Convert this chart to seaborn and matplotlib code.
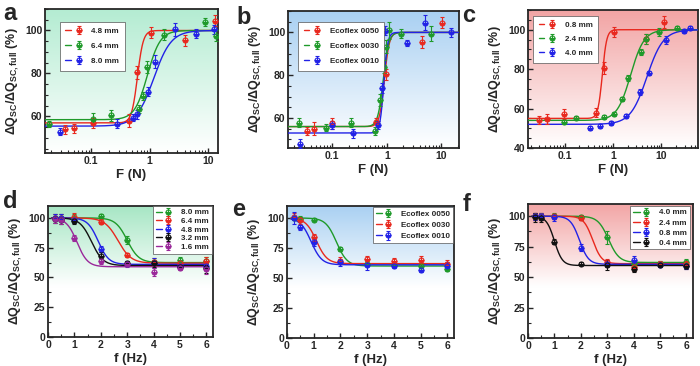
import numpy as np
import pandas as pd
import matplotlib
matplotlib.use('Agg')
import matplotlib.pyplot as plt
import seaborn as sns
from matplotlib.lines import Line2D
from matplotlib.legend_handler import HandlerTuple
from matplotlib.colors import to_rgb
from matplotlib.ticker import MultipleLocator, LogLocator, NullFormatter, FixedLocator, FixedFormatter

sns.set_style('ticks')
plt.rcParams['font.family'] = ['Liberation Sans', 'DejaVu Sans']
plt.rcParams['font.weight'] = 'bold'
plt.rcParams['mathtext.fontset'] = 'custom'
plt.rcParams['mathtext.rm'] = 'Liberation Sans:bold'
plt.rcParams['mathtext.it'] = 'Liberation Sans:bold'
plt.rcParams['mathtext.bf'] = 'Liberation Sans:bold'

RED, GREEN, BLUE, BLACK, PURPLE = '#e8281e', '#1f9a2a', '#2222e6', '#111111', '#9a289a'

# ---------------- panel a : force, electrode gap ----------------
a_labels = ['4.8 mm', '6.4 mm', '8.0 mm']
a_colors = [RED, GREEN, BLUE]
a_x = [[0.035, 0.05, 0.106, 0.45, 0.62, 1.05, 4.0, 13.2],
       [0.019, 0.106, 0.22, 0.66, 0.77, 0.91, 1.8, 8.9, 14.0],
       [0.029, 0.28, 0.51, 0.62, 0.95, 1.26, 2.76, 6.4, 12.9]]
a_y = [[54, 54.5, 57, 58, 80.5, 99, 95.5, 104.5],
       [56.5, 59, 60.5, 63.5, 69.5, 83, 98, 104, 97.5],
       [53, 56.7, 59.5, 61, 71.5, 85.5, 100.6, 98.6, 100.6]]
a_err = [[2, 2, 2.5, 3, 3, 2.5, 2.5, 2.5],
         [1.5, 2.5, 2.5, 2, 2, 3, 2.5, 2, 2.5],
         [1.5, 2, 1.5, 2, 2, 3, 3, 2, 2]]
a_fit_low = [57, 58.5, 55.5]
a_fit_center = [0.62, 0.92, 1.18]
a_fit_width = [0.05, 0.11, 0.15]

# ---------------- panel b : force, Ecoflex ----------------
b_labels = ['Ecoflex 0050', 'Ecoflex 0030', 'Ecoflex 0010']
b_colors = [RED, GREEN, BLUE]
b_x = [[0.034, 0.047, 0.099, 0.64, 0.945, 4.4, 10.2],
       [0.024, 0.077, 0.22, 0.61, 0.75, 0.9, 0.97, 1.09, 1.83, 6.5],
       [0.026, 0.099, 0.24, 0.70, 0.82, 0.92, 2.36, 5.0, 15.0]]
b_y = [[54, 55, 57.5, 58, 80.5, 95.5, 104.5],
       [57.8, 55.5, 57.8, 54, 68.4, 84, 93.4, 101, 99.4, 99.4],
       [48, 56.7, 52.8, 56.7, 74, 100.8, 95, 104.4, 100]]
b_err = [[2, 3, 2.5, 2, 2.5, 3, 2.5],
         [2, 1.5, 2, 2, 3, 3, 3, 4, 2, 3.5],
         [2, 2, 2, 2, 2.5, 2, 1.5, 3.5, 2]]
b_fit_low = [56, 56, 53]
b_fit_center = [0.9, 0.86, 0.88]
b_fit_width = [0.045, 0.05, 0.035]

# ---------------- panel c : force, thickness ----------------
c_labels = ['0.8 mm', '2.4 mm', '4.0 mm']
c_colors = [RED, GREEN, BLUE]
c_x = [[0.030, 0.043, 0.097, 0.44, 0.64, 1.05, 4.7, 11.2],
       [0.097, 0.17, 0.64, 1.05, 1.56, 2.04, 3.86, 4.7, 8.9, 21.0],
       [0.33, 0.53, 0.92, 1.83, 3.56, 5.55, 12.3, 29.0, 38.6]]
c_y = [[54.1, 54.6, 57.1, 58, 80.5, 99, 95.3, 104],
       [53, 55, 55.5, 57.1, 64.7, 75.6, 88.6, 95.3, 99, 100.8],
       [50.3, 51.3, 52.8, 56.3, 68.4, 78.2, 95, 99.2, 100.8]]
c_err = [[2, 2.5, 2.5, 2.5, 3, 2.5, 2.5, 3],
         [1, 1, 1, 1, 1, 1.5, 1.5, 2.5, 2, 1],
         [1, 1, 1, 1, 1.5, 1, 2, 1, 1]]
c_fit_low = [55, 54, 52]
c_fit_center = [0.6, 2.3, 5.0]
c_fit_width = [0.045, 0.14, 0.17]

# ---------------- panel d : frequency, electrode gap ----------------
freq = [0.25, 0.5, 1, 2, 3, 4, 5, 6]
d_labels = ['8.0 mm', '6.4 mm', '4.8 mm', '3.2 mm', '1.6 mm']
d_colors = [GREEN, RED, BLUE, BLACK, PURPLE]
d_y = [[100, 100, 100, 101.5, 81.5, 63, 65, 64],
       [100, 100, 101, 96.7, 68.8, 63, 62, 64],
       [100, 100, 98, 73.8, 61.5, 62, 60, 60],
       [99, 98, 97, 68.2, 62, 62, 59, 58],
       [99, 98, 83.4, 63.5, 61, 54.5, 58, 57]]
d_err = [[3, 3, 3, 2, 3, 2, 2, 3],
         [3, 3, 3, 2, 2, 3, 2, 3],
         [3, 3, 2, 2.5, 2, 4, 2, 3],
         [3, 3, 2, 3, 2, 3, 2, 4],
         [3, 3, 2.5, 2, 2, 3.5, 2, 4]]
d_fit_high = [62.5, 62, 61, 60, 59]
d_fit_center = [3.0, 2.65, 1.9, 1.65, 1.1]
d_fit_width = [0.22, 0.25, 0.2, 0.22, 0.2]

# ---------------- panel e : frequency, Ecoflex ----------------
e_labels = ['Ecoflex 0050', 'Ecoflex 0030', 'Ecoflex 0010']
e_colors = [GREEN, RED, BLUE]
e_y = [[100, 99.5, 98.6, 74.2, 62, 61, 60, 57.5],
       [101, 98, 84, 64.4, 65.5, 63.9, 65, 62],
       [100, 92.4, 79.8, 63, 61, 60, 57, 60]]
e_err = [[2, 2, 1.5, 1.5, 2, 2, 2, 2],
         [3, 3, 3, 3, 3, 3, 3, 3],
         [5, 2, 3, 3, 4, 2, 2, 3]]
e_fit_high = [60, 62, 61]
e_fit_center = [1.85, 1.1, 0.9]
e_fit_width = [0.2, 0.2, 0.2]

# ---------------- panel f : frequency, thickness ----------------
f_labels = ['4.0 mm', '2.4 mm', '0.8 mm', '0.4 mm']
f_colors = [GREEN, RED, BLUE, BLACK]
f_y = [[100, 100, 100.5, 99, 82.5, 61, 61, 62.5],
       [100, 100, 100, 98.6, 62, 58, 61, 61],
       [100, 100, 99, 74.2, 61, 64, 60, 59],
       [99, 98.5, 79.2, 61, 60, 57, 60, 59]]
f_err = [[3, 3, 2, 2, 5, 3, 2, 2],
         [3, 3, 2, 2, 3, 3, 2, 2],
         [3, 3, 3, 3, 3, 3, 2, 2],
         [4, 3, 2, 1, 4, 3, 2, 2]]
f_fit_high = [62, 61, 60.5, 59.5]
f_fit_center = [3.05, 2.45, 1.95, 1.0]
f_fit_width = [0.2, 0.17, 0.17, 0.15]

YLABEL = r'$\Delta$Q$_{SC}$/$\Delta$Q$_{SC,full}$ (%)'


def boltzmann(t, low, high, center, width):
    return high + (low - high) / (1 + np.exp((t - center) / width))


def gradient_bg(ax, color, fade):
    top = np.array(to_rgb(color))
    frac = np.linspace(0, 1, 256)[:, None]
    w = np.clip(frac / fade, 0, 1)
    img = top[None, :] * (1 - w) + np.ones(3)[None, :] * w
    ax.imshow(img[:, None, :], extent=[0, 1, 0, 1], transform=ax.transAxes,
              aspect='auto', zorder=0, interpolation='bilinear')


def draw_points(ax, x, y, err, color):
    return ax.errorbar(x, y, yerr=err, fmt='o', ms=3.6, color=color, mec=color,
                       mfc=color, fillstyle='bottom', mew=0.8, elinewidth=0.8,
                       capsize=1.4, capthick=0.8, zorder=4)


def style_axes(ax):
    for sp in ax.spines.values():
        sp.set_linewidth(1.3)
        sp.set_visible(True)
    ax.tick_params(which='major', direction='in', length=3.5, width=1, labelsize=7.5,
                   top=False, right=False, pad=2)
    ax.tick_params(which='minor', direction='in', length=2, width=0.8, top=False, right=False)
    for lab in ax.get_xticklabels() + ax.get_yticklabels():
        lab.set_fontweight('bold')


def add_legend(ax, handles, labels, loc, anchor, spacing, pad):
    leg = ax.legend(handles, labels, loc=loc, bbox_to_anchor=anchor, fontsize=5.8,
                    frameon=True, fancybox=False, edgecolor='#555555', framealpha=1,
                    handlelength=2.0, handletextpad=1.2, labelspacing=spacing,
                    borderpad=pad, borderaxespad=0,
                    handler_map={tuple: HandlerTuple(ndivide=None)})
    leg.get_frame().set_linewidth(0.5)
    for t in leg.get_texts():
        t.set_fontweight('bold')


def force_panel(ax, xs, ys, errs, colors, labels, lows, centers, widths, xlim, ylim, yticks,
                bg, legend_anchor, spacing):
    gradient_bg(ax, bg, 1.0)
    ax.set_xscale('log')
    ax.set_xlim(*xlim)
    ax.set_ylim(*ylim)
    grid = np.logspace(np.log10(xlim[0]), np.log10(xlim[1]), 400)
    handles = []
    for x, y, e, c, lo, ce, wi in zip(xs, ys, errs, colors, lows, centers, widths):
        fit = pd.DataFrame({'F': grid, 'Q': boltzmann(np.log10(grid), lo, 100, np.log10(ce), wi)})
        sns.lineplot(data=fit, x='F', y='Q', color=c, lw=1.0, ax=ax, legend=False, zorder=3)
        cont = draw_points(ax, x, y, e, c)
        handles.append((Line2D([], [], color=c, lw=1.0), cont))
    ax.xaxis.set_major_locator(FixedLocator([0.1, 1, 10]))
    ax.xaxis.set_major_formatter(FixedFormatter(['0.1', '1', '10']))
    ax.xaxis.set_minor_locator(LogLocator(base=10, subs=np.arange(2, 10), numticks=20))
    ax.xaxis.set_minor_formatter(NullFormatter())
    ax.set_yticks(yticks)
    ax.yaxis.set_minor_locator(MultipleLocator(5))
    ax.set_xlabel('F (N)', fontsize=9.5, fontweight='bold', labelpad=2)
    ax.set_ylabel(YLABEL, fontsize=9, fontweight='bold', labelpad=3)
    style_axes(ax)
    add_legend(ax, handles, labels, 'upper left', legend_anchor, spacing, 0.7)


def freq_panel(ax, ys, errs, colors, labels, highs, centers, widths, bg, legend_anchor, spacing):
    gradient_bg(ax, bg, 0.62)
    ax.set_xlim(0, 6.25)
    ax.set_ylim(0, 110)
    grid = np.linspace(0.15, 6.05, 400)
    handles = []
    for y, e, c, hi, ce, wi in zip(ys, errs, colors, highs, centers, widths):
        fit = pd.DataFrame({'f': grid, 'Q': boltzmann(grid, 100, hi, ce, wi)})
        sns.lineplot(data=fit, x='f', y='Q', color=c, lw=1.0, ax=ax, legend=False, zorder=3)
        cont = draw_points(ax, freq, y, e, c)
        handles.append((Line2D([], [], color=c, lw=1.0), cont))
    ax.set_xticks(range(0, 7))
    ax.set_yticks([0, 25, 50, 75, 100])
    ax.xaxis.set_minor_locator(MultipleLocator(0.5))
    ax.yaxis.set_minor_locator(MultipleLocator(12.5))
    ax.set_xlabel('f (Hz)', fontsize=9.5, fontweight='bold', labelpad=2)
    ax.set_ylabel(YLABEL, fontsize=9, fontweight='bold', labelpad=3)
    style_axes(ax)
    add_legend(ax, handles, labels, 'upper right', legend_anchor, spacing, 0.35)


fig = plt.figure(figsize=(7, 3.66), dpi=100)
W, H = 700, 366


def place(l, r, t, b):
    return fig.add_axes([l / W, (H - b) / H, (r - l) / W, (b - t) / H])


ax_a = place(45, 218, 9, 153)
ax_b = place(288, 459, 11, 148)
ax_c = place(528, 698, 10, 148)
ax_d = place(48, 213, 206, 337)
ax_e = place(287, 454, 206, 338)
ax_f = place(528, 693, 204, 338)

force_panel(ax_a, a_x, a_y, a_err, a_colors, a_labels, a_fit_low, a_fit_center, a_fit_width,
            (0.016, 15), (43, 110), [60, 80, 100], '#b4ecd2', (0.085, 0.91), 0.9)
force_panel(ax_b, b_x, b_y, b_err, b_colors, b_labels, b_fit_low, b_fit_center, b_fit_width,
            (0.0154, 21), (46, 110), [60, 80, 100], '#a9d0f2', (0.06, 0.92), 0.9)
force_panel(ax_c, c_x, c_y, c_err, c_colors, c_labels, c_fit_low, c_fit_center, c_fit_width,
            (0.0174, 57), (40, 110), [40, 60, 80, 100], '#f2a4a4', (0.03, 0.96), 0.8)
freq_panel(ax_d, d_y, d_err, d_colors, d_labels, d_fit_high, d_fit_center, d_fit_width,
           '#a6e6c4', (0.995, 1.0), 0.12)
freq_panel(ax_e, e_y, e_err, e_colors, e_labels, e_fit_high, e_fit_center, e_fit_width,
           '#a9d0f2', (0.995, 0.99), 0.45)
freq_panel(ax_f, f_y, f_err, f_colors, f_labels, f_fit_high, f_fit_center, f_fit_width,
           '#f2a4a4', (0.98, 0.985), 0.3)

for letter, x, y in [('a', 3, 2), ('b', 236, 6), ('c', 462, 4),
                     ('d', 3, 190), ('e', 232, 198), ('f', 463, 193)]:
    fig.text(x / W, 1 - y / H, letter, fontsize=17, fontweight='bold', va='top', ha='left')

fig.savefig('out.png', dpi=100)
